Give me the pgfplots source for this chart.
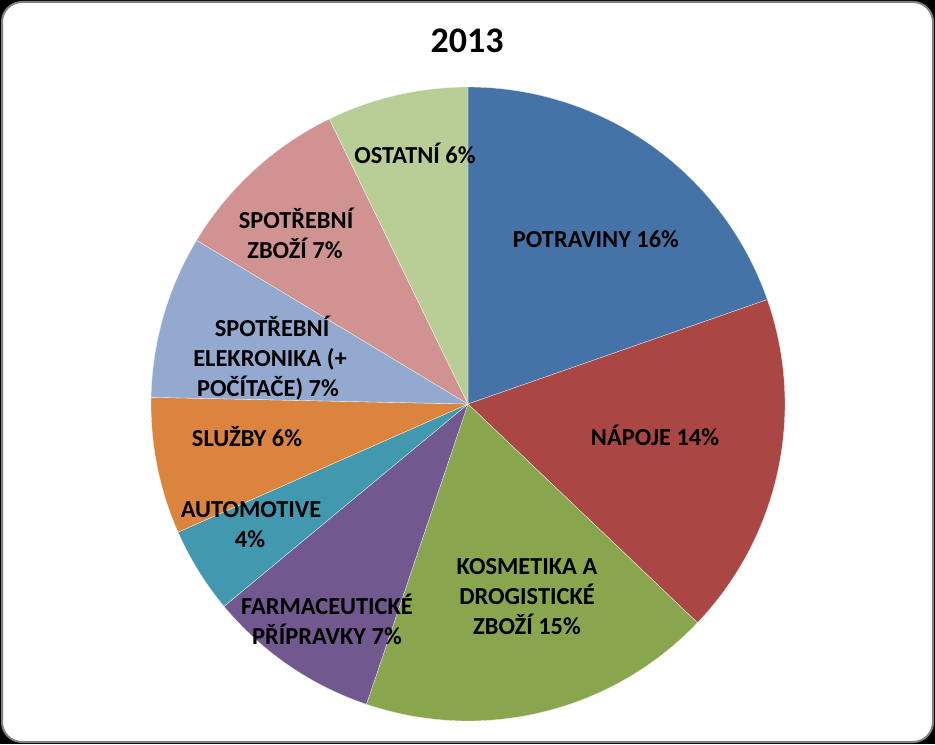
\documentclass[border=0pt]{standalone}
\usepackage{pgfplots}
\pgfplotsset{compat=1.18}
\usepackage{pgfplotstable}
\usepackage{fontspec}
\setmainfont{Carlito}
\definecolor{s0}{HTML}{4572A7}
\definecolor{s1}{HTML}{AA4643}
\definecolor{s2}{HTML}{89A54E}
\definecolor{s3}{HTML}{71588F}
\definecolor{s4}{HTML}{4198AF}
\definecolor{s5}{HTML}{DB843D}
\definecolor{s6}{HTML}{93A9CF}
\definecolor{s7}{HTML}{D19392}
\definecolor{s8}{HTML}{B9CD96}
\pgfplotstableread{
val
16.1
14.3
14.8
7.2
3.6
5.7
6.8
7.5
5.9
}\piedata
\newcommand\lf{\fontsize{18.3}{22}\selectfont\bfseries}
\begin{document}
\begin{tikzpicture}
\begin{axis}[x=0.75pt,y=0.75pt,xmin=0,xmax=935,ymin=0,ymax=744,hide axis,clip=false,scale only axis]
\fill[black] (axis cs:0,0) rectangle (axis cs:935,744);
\draw[draw=gray, line width=1.5pt, fill=white, rounded corners=15pt] (axis cs:2,2) rectangle (axis cs:933,742);
\xdef\total{0}
\pgfplotsforeachungrouped \i in {0,...,8}{%
  \pgfplotstablegetelem{\i}{val}\of\piedata
  \pgfmathparse{\total+\pgfplotsretval}\xdef\total{\pgfmathresult}%
}
\xdef\startang{90}
\pgfplotsforeachungrouped \i in {0,...,8}{%
  \pgfplotstablegetelem{\i}{val}\of\piedata
  \pgfmathsetmacro\endang{\startang-\pgfplotsretval/\total*360}%
  \edef\cmd{\noexpand\addplot[draw=white!85!s\i, line width=0.25pt, line join=round, fill=s\i, domain=\endang:\startang, samples=90] ({468+317*cos(x)},{340+317*sin(x)}) -- (axis cs:468,340) -- cycle;}%
  \cmd
  \xdef\startang{\endang}%
}
\node[anchor=base, font=\fontsize{27}{32}\selectfont\bfseries] at (axis cs:467,691) {2013};
\node[anchor=base, font=\lf] at (axis cs:596,497) {POTRAVINY 16\%};
\node[anchor=base, font=\lf] at (axis cs:655,299) {NÁPOJE 14\%};
\node[anchor=base, font=\lf] at (axis cs:527,170) {KOSMETIKA A};
\node[anchor=base, font=\lf] at (axis cs:527,140) {DROGISTICKÉ};
\node[anchor=base, font=\lf] at (axis cs:527,110) {ZBOŽÍ 15\%};
\node[anchor=base, font=\lf] at (axis cs:327,130) {FARMACEUTICKÉ};
\node[anchor=base, font=\lf] at (axis cs:327,100) {PŘÍPRAVKY 7\%};
\node[anchor=base, font=\lf] at (axis cs:251,227) {AUTOMOTIVE};
\node[anchor=base, font=\lf] at (axis cs:250,197) {4\%};
\node[anchor=base, font=\lf] at (axis cs:247,298) {SLUŽBY 6\%};
\node[anchor=base, font=\lf] at (axis cs:272,408) {SPOTŘEBNÍ};
\node[anchor=base, font=\lf] at (axis cs:270,378) {ELEKRONIKA (+};
\node[anchor=base, font=\lf] at (axis cs:268,348) {POČÍTAČE) 7\%};
\node[anchor=base, font=\lf] at (axis cs:296,515) {SPOTŘEBNÍ};
\node[anchor=base, font=\lf] at (axis cs:295,485) {ZBOŽÍ 7\%};
\node[anchor=base, font=\lf] at (axis cs:415,580) {OSTATNÍ 6\%};
\end{axis}
\end{tikzpicture}
\end{document}
